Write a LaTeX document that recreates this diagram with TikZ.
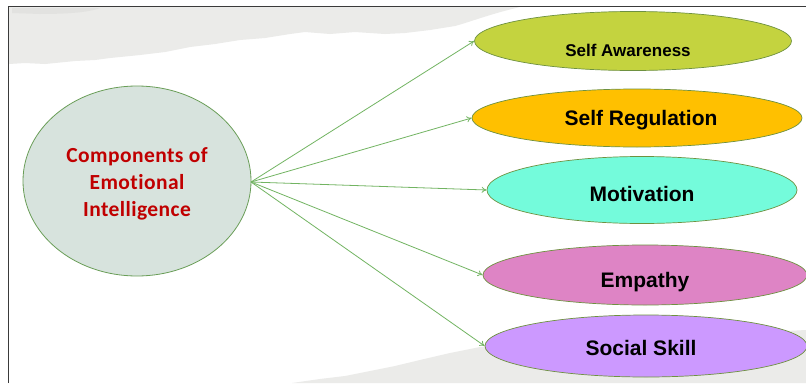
\documentclass[tikz,border=0pt]{standalone}
\usepackage{fontspec}
\setmainfont{Liberation Sans}
\newfontfamily\calib[Ligatures=NoCommon,LetterSpace=2]{Carlito}
\usetikzlibrary{shapes.geometric,arrows.meta}
\definecolor{framecol}{HTML}{3A3A3A}
\definecolor{paper}{HTML}{EBEBE9}
\definecolor{smudge}{HTML}{DCDCDA}
\definecolor{mainfill}{HTML}{D7E3DD}
\definecolor{mainedge}{HTML}{6A9E58}
\definecolor{redtext}{HTML}{C00000}
\definecolor{arrowcol}{HTML}{72B462}
\definecolor{edgecol}{HTML}{6E9140}
\definecolor{safill}{HTML}{C4D33F}
\definecolor{srfill}{HTML}{FFC000}
\definecolor{mofill}{HTML}{74FBDB}
\definecolor{emfill}{HTML}{DE84C5}
\definecolor{ssfill}{HTML}{CC99FF}
\tikzset{
  compbox/.style={ellipse, draw=edgecol, line width=0.7pt, inner sep=0pt},
  comptext/.style={font=\bfseries\fontsize{21}{25}\selectfont, text=black, inner sep=0pt},
  link/.style={draw=arrowcol, line width=0.8pt, -{To[length=5pt,width=6pt]}},
}
\begin{document}
\begin{tikzpicture}[x=1pt,y=-1pt]
\useasboundingbox (0,0) rectangle (806,383);
\fill[white] (0,0) rectangle (806,383);
% torn paper shading
\fill[paper] (9,7) -- (520,7) .. controls (490,14) and (470,22) .. (455,26)
  -- (430,30) -- (405,33) -- (385,34) -- (355,32) -- (330,34) -- (305,32)
  -- (290,34) -- (265,38) -- (240,40) -- (215,44) -- (190,47) -- (165,52)
  -- (140,55) -- (110,58) -- (95,60) -- (75,61) -- (45,64) -- (25,63) -- (9,64) -- cycle;
\fill[smudge, opacity=0.6] (12,8) -- (100,8) .. controls (90,12) and (70,14) .. (40,14) -- (12,13) -- cycle;
\fill[paper] (292,383) -- (320,379) -- (345,376) -- (370,371) -- (395,366)
  -- (420,360) -- (450,353) -- (480,347) -- (806,330) -- (806,383) -- cycle;
% frame
\draw[framecol, line width=1.5pt] (8.5,383) -- (8.5,6.5) -- (806,6.5);
% central ellipse
\node[ellipse, draw=mainedge, fill=mainfill, line width=0.8pt,
      minimum width=228pt, minimum height=190pt, inner sep=0pt] (ei) at (137,181) {};
\node[align=center, text=redtext, inner sep=0pt,
      font=\calib\bfseries\fontsize{21.5}{27}\selectfont] (eit) at (137,184)
      {Components of\\Emotional\\Intelligence};
% component ellipses
\node[compbox, fill=safill, minimum width=317pt, minimum height=59pt] (sa) at (633,41) {};
\node[compbox, fill=srfill, minimum width=330pt, minimum height=58pt] (sr) at (637,118) {};
\node[compbox, fill=mofill, minimum width=310pt, minimum height=67pt] (mo) at (642,190) {};
\node[compbox, fill=emfill, minimum width=324pt, minimum height=60pt] (em) at (645,275) {};
\node[compbox, fill=ssfill, minimum width=322pt, minimum height=62pt] (ss) at (646,346) {};
\node[comptext, font=\bfseries\fontsize{17}{20}\selectfont] (sat) at (628,50) {Self Awareness};
\node[comptext] (srt) at (641,120) {Self Regulation};
\node[comptext] (mot) at (642,194) {Motivation};
\node[comptext] (emt) at (645,282) {Empathy};
\node[comptext] (sst) at (641,348) {Social Skill};
% connectors
\coordinate (hub) at (251,182);
\draw[link] (hub) -- (sa.west);
\draw[link] (hub) -- (sr.west);
\draw[link] (hub) -- (mo.west);
\draw[link] (hub) -- (em.west);
\draw[link] (hub) -- (ss.west);
\end{tikzpicture}
\end{document}
